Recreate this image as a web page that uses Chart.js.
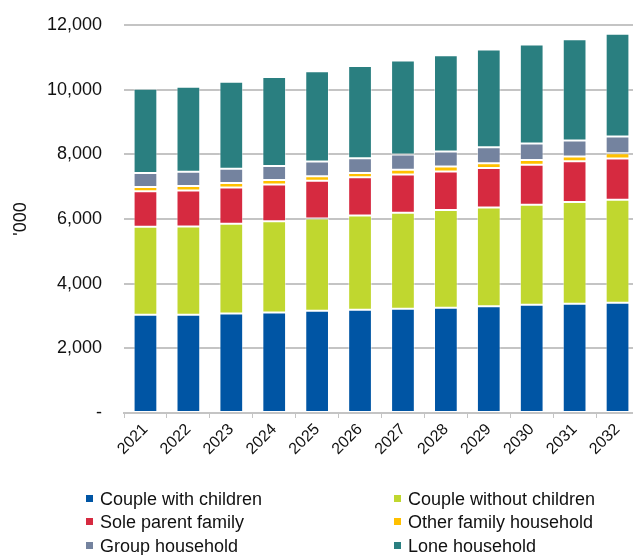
<!DOCTYPE html>
<html>
<head>
<meta charset="utf-8">
<script src="https://cdn.jsdelivr.net/npm/chart.js@4/dist/chart.umd.min.js"></script>
<style>
  html, body { margin: 0; padding: 0; background: #fff; overflow: hidden; }
  #wrap { position: relative; width: 633px; height: 555px; overflow: hidden; }
  #chart { position: absolute; left: 0; top: 0; }
  .leg { position: absolute; font-family: "Liberation Sans", Arial, sans-serif; font-size: 18px;
         line-height: 23px; color: #111; white-space: nowrap; }
  .leg span { display: inline-block; width: 7px; height: 7px; margin-right: 7px; vertical-align: 3px; }
</style>
</head>
<body>
<div id="wrap">
  <canvas id="chart" width="640" height="555"></canvas>
  <div id="legend"></div>
</div>
<script>
// data ('000 households)
const years = ['2021', '2022', '2023', '2024', '2025', '2026', '2027', '2028', '2029', '2030', '2031', '2032'];
const coupleWithChildren = [3040, 3040, 3080, 3110, 3160, 3195, 3225, 3255, 3300, 3350, 3380, 3410];
const coupleWithoutChildren = [2720, 2730, 2770, 2820, 2855, 2915, 2970, 3020, 3058, 3090, 3143, 3185];
const soleParent = [1095, 1115, 1125, 1135, 1168, 1178, 1185, 1197, 1220, 1240, 1260, 1280];
const otherFamily = [136, 136, 136, 142, 138, 136, 145, 150, 145, 146, 152, 155];
const groupHousehold = [434, 444, 444, 434, 456, 453, 466, 465, 496, 506, 496, 518];
const loneHousehold = [2605, 2626, 2688, 2750, 2790, 2853, 2914, 2977, 3020, 3068, 3132, 3184];
const yTicks = [0, 2000, 4000, 6000, 8000, 10000, 12000];

const series = [
  { label: 'Couple with children', data: coupleWithChildren, color: '#0055a4' },
  { label: 'Couple without children', data: coupleWithoutChildren, color: '#c0d72f' },
  { label: 'Sole parent family', data: soleParent, color: '#d62a40' },
  { label: 'Other family household', data: otherFamily, color: '#ffc000' },
  { label: 'Group household', data: groupHousehold, color: '#74839f' },
  { label: 'Lone household', data: loneHousehold, color: '#2a7f80' }
];

const FONT = '"Liberation Sans", Arial, sans-serif';

// legend, two columns
const legendPos = [
  { x: 86, y: 488 }, { x: 394, y: 488 },
  { x: 86, y: 511 }, { x: 394, y: 511 },
  { x: 86, y: 535 }, { x: 394, y: 535 }
];
const legendEl = document.getElementById('legend');
series.forEach((s, i) => {
  const d = document.createElement('div');
  d.className = 'leg';
  d.style.left = legendPos[i].x + 'px';
  d.style.top = legendPos[i].y + 'px';
  d.innerHTML = `<span style="background:${s.color}"></span>${s.label}`;
  legendEl.appendChild(d);
});

new Chart(document.getElementById('chart').getContext('2d'), {
  type: 'bar',
  data: {
    labels: years,
    datasets: series.map(s => ({
      label: s.label,
      data: s.data,
      backgroundColor: s.color,
      borderColor: 'rgba(255,255,255,0.45)',
      borderWidth: 1,
      borderSkipped: false,
      barPercentage: 0.553,
      categoryPercentage: 1
    }))
  },
  options: {
    responsive: false,
    animation: false,
    devicePixelRatio: 1,
    layout: { padding: { top: 25, right: 1, left: 0, bottom: 0 } },
    plugins: { legend: { display: false }, tooltip: { enabled: false } },
    scales: {
      x: {
        stacked: true,
        grid: { display: true, drawOnChartArea: false, drawTicks: true, tickLength: 5, color: '#c4c4c4', offset: true },
        border: { display: true, color: '#c4c4c4', width: 2 },
        ticks: { color: '#111', font: { family: FONT, size: 16 }, maxRotation: 45, minRotation: 45, padding: 2 },
        afterFit: s => { s.height = 142; }
      },
      y: {
        stacked: true,
        min: 0,
        max: 12000,
        afterBuildTicks: s => { s.ticks = yTicks.map(v => ({ value: v })); },
        // invisible tick marks just push the labels away from the plot
        grid: { color: '#c4c4c4', lineWidth: 2, drawTicks: true, tickLength: 22, tickColor: 'rgba(0,0,0,0)' },
        border: { display: false },
        ticks: {
          color: '#111',
          padding: 0,
          font: { family: FONT, size: 18 },
          callback: v => v === 0 ? '-' : v.toLocaleString('en-US')
        },
        title: { display: true, text: "'000", color: '#111', font: { family: FONT, size: 18 }, padding: { top: 10, bottom: 0 } },
        afterFit: s => { s.width = 124; }
      }
    }
  }
});
</script>
</body>
</html>
